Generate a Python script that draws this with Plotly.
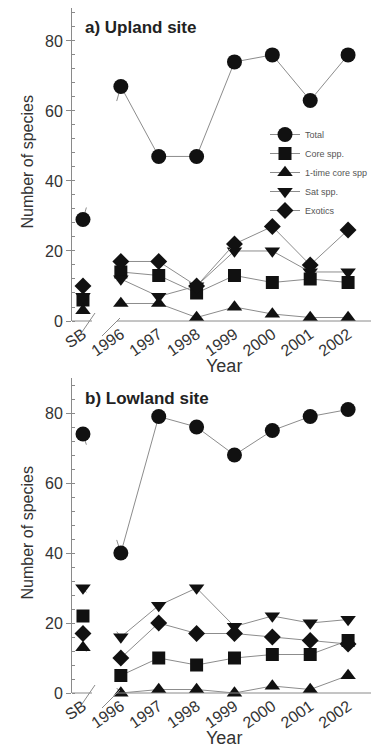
import plotly.graph_objects as go

# ---------------- data ----------------
categories = ["SB", "1996", "1997", "1998", "1999", "2000", "2001", "2002"]
series_names = ["Total", "Core spp.", "1-time core spp", "Sat spp.", "Exotics"]

upland_total = [29, 67, 47, 47, 74, 76, 63, 76]
upland_core = [6, 14, 13, 8, 13, 11, 12, 11]
upland_onetime = [3, 5, 5, 1, 4, 2, 1, 1]
upland_sat = [7, 12, 7, 10, 20, 20, 14, 14]
upland_exotics = [10, 17, 17, 10, 22, 27, 16, 26]

lowland_total = [74, 40, 79, 76, 68, 75, 79, 81]
lowland_core = [22, 5, 10, 8, 10, 11, 11, 15]
lowland_onetime = [13, 0, 1, 1, 0, 2, 1, 5]
lowland_sat = [30, 16, 25, 30, 19, 22, 20, 21]
lowland_exotics = [17, 10, 20, 17, 17, 16, 15, 14]

y_tickvals = [0, 20, 40, 60, 80]
panel_titles = ["a) Upland site", "b) Lowland site"]

# ---------------- style / geometry ----------------
OFF = 8                      # page body margin of the browser
W, H = 379 - OFF, 750 - OFF
ML, MR, MT, MB = 64, 1, 0, 57
PW, PH = W - ML - MR, H - MT - MB
FONT = "Liberation Sans, Arial, Helvetica, sans-serif"
LINE_COL = "#8c8c8c"
AX_COL = "#8a8a8a"
MK_COL = "#111111"
TXT_COL = "#333333"

symbols = ["circle", "square", "triangle-up", "triangle-down", "diamond"]
sizes = [15, 13, 13.5, 13.5, 13]

def xp(page_px):
    return (page_px - OFF - ML) / PW

def yp(page_py):
    return (H - MB - (page_py - OFF)) / PH

xpos = list(range(len(categories)))
X_RANGE = [-0.29, 7.79]
BREAK_F0, BREAK_F1 = 0.09, 0.89   # visible stub fractions of SB->1996 segment

panels = [
    dict(xa="x", ya="y", data=[upland_total, upland_core, upland_onetime, upland_sat, upland_exotics],
         axis_py=321, top_py=8, yrange=[0, 89.4], legend=True),
    dict(xa="x2", ya="y2", data=[lowland_total, lowland_core, lowland_onetime, lowland_sat, lowland_exotics],
         axis_py=693, top_py=378, yrange=[0, 90], legend=False),
]

fig = go.Figure()

for p in panels:
    for vals in p["data"]:
        sb, y1 = vals[0], vals[1]
        fig.add_trace(go.Scatter(
            x=[xpos[0], xpos[0] + BREAK_F0, None, xpos[0] + BREAK_F1, xpos[1]],
            y=[sb, sb + (y1 - sb) * BREAK_F0, None, sb + (y1 - sb) * BREAK_F1, y1],
            mode="lines", line=dict(color=LINE_COL, width=1),
            xaxis=p["xa"], yaxis=p["ya"], showlegend=False, hoverinfo="skip",
            cliponaxis=False))
    for name, vals, sym, sz in zip(series_names, p["data"], symbols, sizes):
        fig.add_trace(go.Scatter(
            x=xpos[1:], y=vals[1:], mode="lines+markers", name=name,
            line=dict(color=LINE_COL, width=1),
            marker=dict(symbol=sym, size=sz, color=MK_COL, line=dict(width=0)),
            xaxis=p["xa"], yaxis=p["ya"], showlegend=p["legend"], cliponaxis=False))
        fig.add_trace(go.Scatter(
            x=xpos[:1], y=vals[:1], mode="markers", name=name,
            marker=dict(symbol=sym, size=sz, color=MK_COL, line=dict(width=0)),
            xaxis=p["xa"], yaxis=p["ya"], showlegend=False, cliponaxis=False))

yaxis_common = dict(
    tickvals=y_tickvals, ticks="outside", ticklen=5, tickcolor=AX_COL,
    showline=True, linecolor=AX_COL, linewidth=1, showgrid=False, zeroline=False,
    tickfont=dict(family=FONT, size=16, color=TXT_COL),
    minor=dict(dtick=4, tick0=0, ticks="inside", ticklen=3, tickcolor=AX_COL, showgrid=False),
)
xaxis_common = dict(
    range=X_RANGE, tickvals=xpos, ticktext=categories, tickangle=-35, ticks="",
    showline=False, showgrid=False, zeroline=False,
    tickfont=dict(family=FONT, size=16, color=TXT_COL),
)

fig.update_layout(
    width=W, height=H,
    margin=dict(l=ML, r=MR, t=MT, b=MB, pad=0),
    paper_bgcolor="white", plot_bgcolor="white",
    xaxis=dict(anchor="y", domain=[0, 1], **xaxis_common),
    yaxis=dict(anchor="x", domain=[yp(321), yp(8)], range=panels[0]["yrange"], **yaxis_common),
    xaxis2=dict(anchor="y2", domain=[0, 1], **xaxis_common),
    yaxis2=dict(anchor="x2", domain=[yp(693), yp(378)], range=panels[1]["yrange"], **yaxis_common),
    legend=dict(x=xp(265), y=yp(120), xanchor="left", yanchor="top",
                font=dict(family=FONT, size=9, color="#555555"),
                bgcolor="rgba(0,0,0,0)", tracegroupgap=0, itemwidth=30),
    showlegend=True,
)

shapes = []
annotations = []
for i, p in enumerate(panels):
    ay = p["axis_py"]
    shapes.append(dict(type="line", xref="paper", yref="paper", x0=xp(72), x1=xp(92),
                       y0=yp(ay), y1=yp(ay), line=dict(color=AX_COL, width=1)))
    shapes.append(dict(type="line", xref="paper", yref="paper", x0=xp(117), x1=xp(378),
                       y0=yp(ay), y1=yp(ay), line=dict(color=AX_COL, width=1)))
    shapes.append(dict(type="line", xref="paper", yref="paper", x0=xp(82), x1=xp(95),
                       y0=yp(ay + 11), y1=yp(ay - 8), line=dict(color=AX_COL, width=1)))
    shapes.append(dict(type="line", xref="paper", yref="paper", x0=xp(102), x1=xp(120),
                       y0=yp(ay + 15), y1=yp(ay - 3), line=dict(color=AX_COL, width=1)))
    annotations.append(dict(text="<b>%s</b>" % panel_titles[i], xref="paper", yref="paper",
                            x=xp(83), y=yp(p["top_py"] + 20), xanchor="left", yanchor="middle",
                            showarrow=False, font=dict(family=FONT, size=17, color="#222222")))
    annotations.append(dict(text="Number of species", xref="paper", yref="paper",
                            x=xp(27), y=yp((ay + p["top_py"]) / 2 - 2), xanchor="center", yanchor="middle",
                            textangle=-90, showarrow=False,
                            font=dict(family=FONT, size=16, color=TXT_COL)))
    annotations.append(dict(text="Year", xref="paper", yref="paper",
                            x=xp(224), y=yp(ay + 57), xanchor="center", yanchor="bottom",
                            showarrow=False, font=dict(family=FONT, size=18, color=TXT_COL)))

fig.update_layout(shapes=shapes, annotations=annotations)

fig.write_html("out.html")
